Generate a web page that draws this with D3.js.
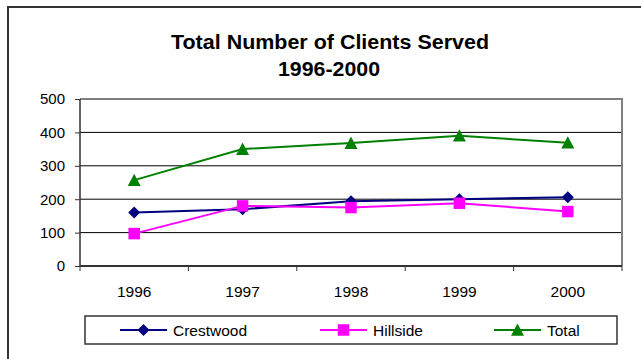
<!DOCTYPE html>
<html>
<head>
<meta charset="utf-8">
<script src="https://cdn.jsdelivr.net/npm/d3@7"></script>
<style>
  body { margin: 0; background: #fff; }
  svg { display: block; font-family: "Liberation Sans", Arial, sans-serif; }
</style>
</head>
<body>
<div class="chart"></div>
<script>
var years = ["1996", "1997", "1998", "1999", "2000"];
var crestwood = [160, 170, 194, 200, 206];
var hillside = [97, 180, 175, 188, 163];
var total = [257, 350, 368, 390, 369];
var yTicks = [0, 100, 200, 300, 400, 500];

// marker shapes like the spreadsheet ones (size = full width in px)
var diamond = {draw: function(ctx, s){ var r = s / 2; ctx.moveTo(0, -r); ctx.lineTo(r, 0); ctx.lineTo(0, r); ctx.lineTo(-r, 0); ctx.closePath(); }};
var square = {draw: function(ctx, s){ var r = s / 2; ctx.rect(-r, -r, s, s); }};
var triangle = {draw: function(ctx, s){ var r = s / 2; ctx.moveTo(0, -r); ctx.lineTo(r, r * 0.9); ctx.lineTo(-r, r * 0.9); ctx.closePath(); }};

var series = [
  {name: "Crestwood", values: crestwood, color: "#000080", symbol: diamond, size: 12},
  {name: "Hillside", values: hillside, color: "#FF00FF", symbol: square, size: 11.5},
  {name: "Total", values: total, color: "#008000", symbol: triangle, size: 13}
];

var W = 641, H = 359;
var plot = {left: 80, right: 622, top: 99, bottom: 266};

var svg = d3.select(".chart").append("svg")
    .attr("width", W)
    .attr("height", H);

// outer chart frame (runs off the picture at right and bottom)
svg.append("rect")
    .attr("x", 8).attr("y", 7)
    .attr("width", 700).attr("height", 400)
    .attr("fill", "#fff")
    .attr("stroke", "#333")
    .attr("stroke-width", 2);

svg.append("text")
    .attr("x", 330).attr("y", 49)
    .attr("text-anchor", "middle")
    .attr("font-size", 19.5).attr("font-weight", "bold")
    .attr("textLength", 318).attr("lengthAdjust", "spacingAndGlyphs")
    .text("Total Number of Clients Served");
svg.append("text")
    .attr("x", 329).attr("y", 76)
    .attr("text-anchor", "middle")
    .attr("font-size", 19.5).attr("font-weight", "bold")
    .attr("textLength", 102).attr("lengthAdjust", "spacingAndGlyphs")
    .text("1996-2000");

var x = d3.scaleBand().domain(years).range([plot.left, plot.right]);
var y = d3.scaleLinear().domain([0, 500]).range([plot.bottom, plot.top]);

// gridlines
svg.append("g")
  .selectAll("line")
    .data(yTicks.filter(function(d){ return d > 0 && d < 500; }))
  .enter().append("line")
    .attr("x1", plot.left).attr("x2", plot.right)
    .attr("y1", function(d){ return y(d); })
    .attr("y2", function(d){ return y(d); })
    .attr("stroke", "#000")
    .attr("stroke-width", 1);

// plot area border top / right
svg.append("path")
    .attr("d", "M" + plot.left + "," + y(500) + "H" + plot.right + "V" + plot.bottom)
    .attr("fill", "none")
    .attr("stroke", "#808080")
    .attr("stroke-width", 2);

var yAxis = d3.axisLeft(y).tickValues(yTicks).tickSize(5).tickPadding(10);
var yg = svg.append("g")
    .attr("transform", "translate(" + plot.left + ",0)")
    .call(yAxis);
yg.select(".domain").attr("stroke", "#333").attr("stroke-width", 1.5).attr("d", "M0," + plot.top + "V" + plot.bottom);
yg.selectAll(".tick line").attr("stroke", "#333");
yg.selectAll("text").attr("font-size", 15).attr("fill", "#000")
    .attr("font-family", "'Liberation Sans', Arial, sans-serif");

var xAxis = d3.axisBottom(x).tickSize(0).tickPadding(20);
var xg = svg.append("g")
    .attr("transform", "translate(0," + plot.bottom + ")")
    .call(xAxis);
xg.select(".domain").attr("stroke", "#333").attr("stroke-width", 2).attr("d", "M" + plot.left + ",0H" + plot.right);
xg.selectAll("text").attr("font-size", 15.5).attr("fill", "#000")
    .attr("font-family", "'Liberation Sans', Arial, sans-serif");
// tick marks between categories
xg.selectAll(".sep")
    .data(years.concat(["end"]))
  .enter().append("line")
    .attr("class", "sep")
    .attr("x1", function(d, i){ return plot.left + i * x.step(); })
    .attr("x2", function(d, i){ return plot.left + i * x.step(); })
    .attr("y1", 0).attr("y2", 5)
    .attr("stroke", "#333");

var line = d3.line()
    .x(function(d, i){ return x(years[i]) + x.bandwidth() / 2; })
    .y(function(d){ return y(d); });

series.forEach(function(s){
  svg.append("path")
      .datum(s.values)
      .attr("d", line)
      .attr("fill", "none")
      .attr("stroke", s.color)
      .attr("stroke-width", 2);
  svg.selectAll(".pt-" + s.name)
      .data(s.values)
    .enter().append("path")
      .attr("transform", function(d, i){ return "translate(" + (x(years[i]) + x.bandwidth() / 2) + "," + y(d) + ")"; })
      .attr("d", d3.symbol().type(s.symbol).size(s.size))
      .attr("fill", s.color);
});

// legend
var legend = svg.append("g");
legend.append("rect")
    .attr("x", 85).attr("y", 316)
    .attr("width", 532).attr("height", 28)
    .attr("fill", "#fff")
    .attr("stroke", "#333")
    .attr("stroke-width", 1.5);

var legendX = [120, 320, 494];
series.forEach(function(s, i){
  var g = legend.append("g").attr("transform", "translate(" + legendX[i] + ",330)");
  g.append("line")
      .attr("x1", 0).attr("x2", 47)
      .attr("stroke", s.color).attr("stroke-width", 2);
  g.append("path")
      .attr("transform", "translate(23.5,0)")
      .attr("d", d3.symbol().type(s.symbol).size(s.size))
      .attr("fill", s.color);
  g.append("text")
      .attr("x", 53).attr("y", 5.5)
      .attr("font-size", 15.5)
      .text(s.name);
});
</script>
</body>
</html>
